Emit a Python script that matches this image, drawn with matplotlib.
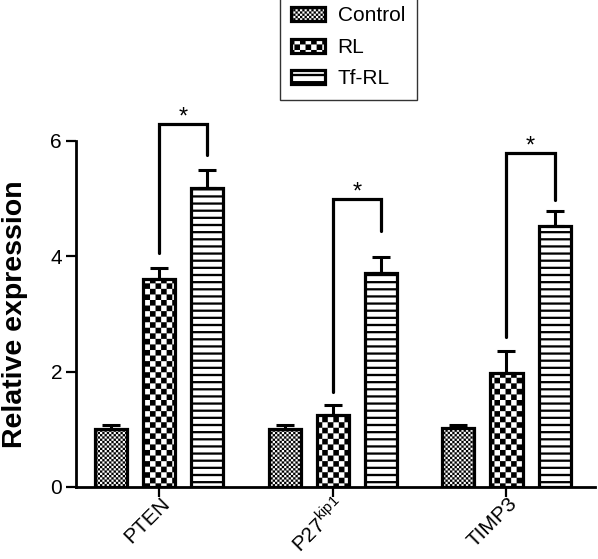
import numpy as np
import matplotlib
matplotlib.use("Agg")
import matplotlib.pyplot as plt
import matplotlib.hatch as mhatch
from matplotlib.path import Path
from matplotlib.transforms import ScaledTranslation

# ---------------- data ----------------
genes = ["PTEN", r"P27$^{\mathregular{kip1}}$", "TIMP3"]
groups = ["Control", "RL", "Tf-RL"]
control_vals = [1.00, 1.01, 1.02]
control_err = [0.07, 0.07, 0.06]
rl_vals = [3.60, 1.25, 1.97]
rl_err = [0.20, 0.18, 0.38]
tfrl_vals = [5.18, 3.71, 4.52]
tfrl_err = [0.32, 0.27, 0.27]
# significance brackets between RL and Tf-RL: (left leg bottom, top, right leg bottom)
bracket_left = [4.05, 1.65, 2.60]
bracket_top = [6.30, 5.00, 5.80]
bracket_right = [5.75, 4.44, 4.97]
sig_labels = ["*", "*", "*"]
yticks = [0, 2, 4, 6]


# ---------------- custom hatch patterns ----------------
class HLines(mhatch.HatchPatternBase):
    def __init__(self, hatch, density):
        self.n = 14 if '-' in hatch else 0
        self.num_vertices = self.n * 5

    def set_vertices_and_codes(self, vertices, codes):
        h = 0.011
        for i in range(self.n):
            y = (i + 0.5) / self.n
            vertices[i*5:(i+1)*5] = [[0, y-h], [1, y-h], [1, y+h], [0, y+h], [0, y-h]]
            codes[i*5:(i+1)*5] = [Path.MOVETO, Path.LINETO, Path.LINETO, Path.LINETO, Path.CLOSEPOLY]


class Checker(mhatch.HatchPatternBase):
    def __init__(self, hatch, density):
        if 'o' in hatch:
            self.n = 18
        elif '.' in hatch:
            self.n = 44
        else:
            self.n = 0
        self.squares = [(r, c) for r in range(self.n) for c in range(self.n) if (r + c) % 2 == 0]
        self.num_vertices = len(self.squares) * 5

    def set_vertices_and_codes(self, vertices, codes):
        s = 1.0 / max(self.n, 1)
        for k, (r, c) in enumerate(self.squares):
            x0, y0 = c * s, r * s
            vertices[k*5:(k+1)*5] = [[x0, y0], [x0+s, y0], [x0+s, y0+s], [x0, y0+s], [x0, y0]]
            codes[k*5:(k+1)*5] = [Path.MOVETO, Path.LINETO, Path.LINETO, Path.LINETO, Path.CLOSEPOLY]


mhatch._hatch_types[:] = [HLines, Checker]

plt.rcParams['font.family'] = ['Liberation Sans', 'DejaVu Sans']
plt.rcParams['mathtext.fontset'] = 'custom'
plt.rcParams['mathtext.rm'] = 'Liberation Sans'
plt.rcParams['hatch.linewidth'] = 0.05
plt.rcParams['hatch.color'] = 'black'

fig = plt.figure(figsize=(5.98, 5.59), dpi=100)
ax = fig.add_axes([76/598, 72/559, 519/598, 346/559])

x = np.arange(len(genes))
off = 0.277
w = 0.185
edge_lw = 2.3

series = [(control_vals, control_err, '.'), (rl_vals, rl_err, 'o'), (tfrl_vals, tfrl_err, '-')]
handles = []
for i, (vals, err, hatch) in enumerate(series):
    xs = x + (i - 1) * off
    bc = ax.bar(xs, vals, width=w, color='white', edgecolor='black', linewidth=edge_lw,
                hatch=hatch, label=groups[i], zorder=2)
    handles.append(bc)
    ax.errorbar(xs, vals, yerr=[np.zeros(len(vals)), err], fmt='none', ecolor='black',
                elinewidth=2.2, capsize=6.8, capthick=2.2, zorder=3)

for j in range(len(genes)):
    x1 = x[j]
    x2 = x[j] + off
    ax.plot([x1, x1, x2, x2], [bracket_left[j], bracket_top[j], bracket_top[j], bracket_right[j]],
            color='black', lw=2.3, clip_on=False, solid_joinstyle='miter', solid_capstyle='round', zorder=4)
    ax.text((x1 + x2) / 2, bracket_top[j] + 0.1, sig_labels[j], ha='center', va='center',
            fontsize=17, clip_on=False)

ax.set_xlim(-0.48, 2.51)
ax.set_ylim(0, 6)
ax.set_yticks(yticks)
ax.set_yticklabels([str(t) for t in yticks], fontsize=15)
ax.set_xticks(x)
ax.set_xticklabels(genes, fontsize=15, rotation=45, ha='right', va='center',
                   rotation_mode='anchor')
ax.tick_params(axis='both', length=7, width=1.6, color='black', pad=3)
ax.tick_params(axis='x', pad=3)
for lbl in ax.get_xticklabels():
    lbl.set_transform(lbl.get_transform() + ScaledTranslation(0.08, 0, fig.dpi_scale_trans))

for s in ['top', 'right']:
    ax.spines[s].set_visible(False)
ax.spines['left'].set_linewidth(2.0)
ax.spines['bottom'].set_linewidth(2.0)
ax.spines['left'].set_bounds(0, 6)

fig.text(15/598, (559-314)/559, "Relative expression", rotation=90, ha='center', va='center',
         fontsize=20.5, fontweight='bold')

leg = fig.legend(handles=handles, labels=groups, loc='upper left',
                 bbox_to_anchor=(280/598, (559+5)/559), bbox_transform=fig.transFigure,
                 borderaxespad=0, fontsize=15, handlelength=1.59, handleheight=0.67,
                 handletextpad=0.63, borderpad=0.55, labelspacing=0.6, fancybox=False,
                 framealpha=1)
leg.get_frame().set_edgecolor('#333333')
leg.get_frame().set_linewidth(1.0)

fig.savefig("out.png", dpi=100)
